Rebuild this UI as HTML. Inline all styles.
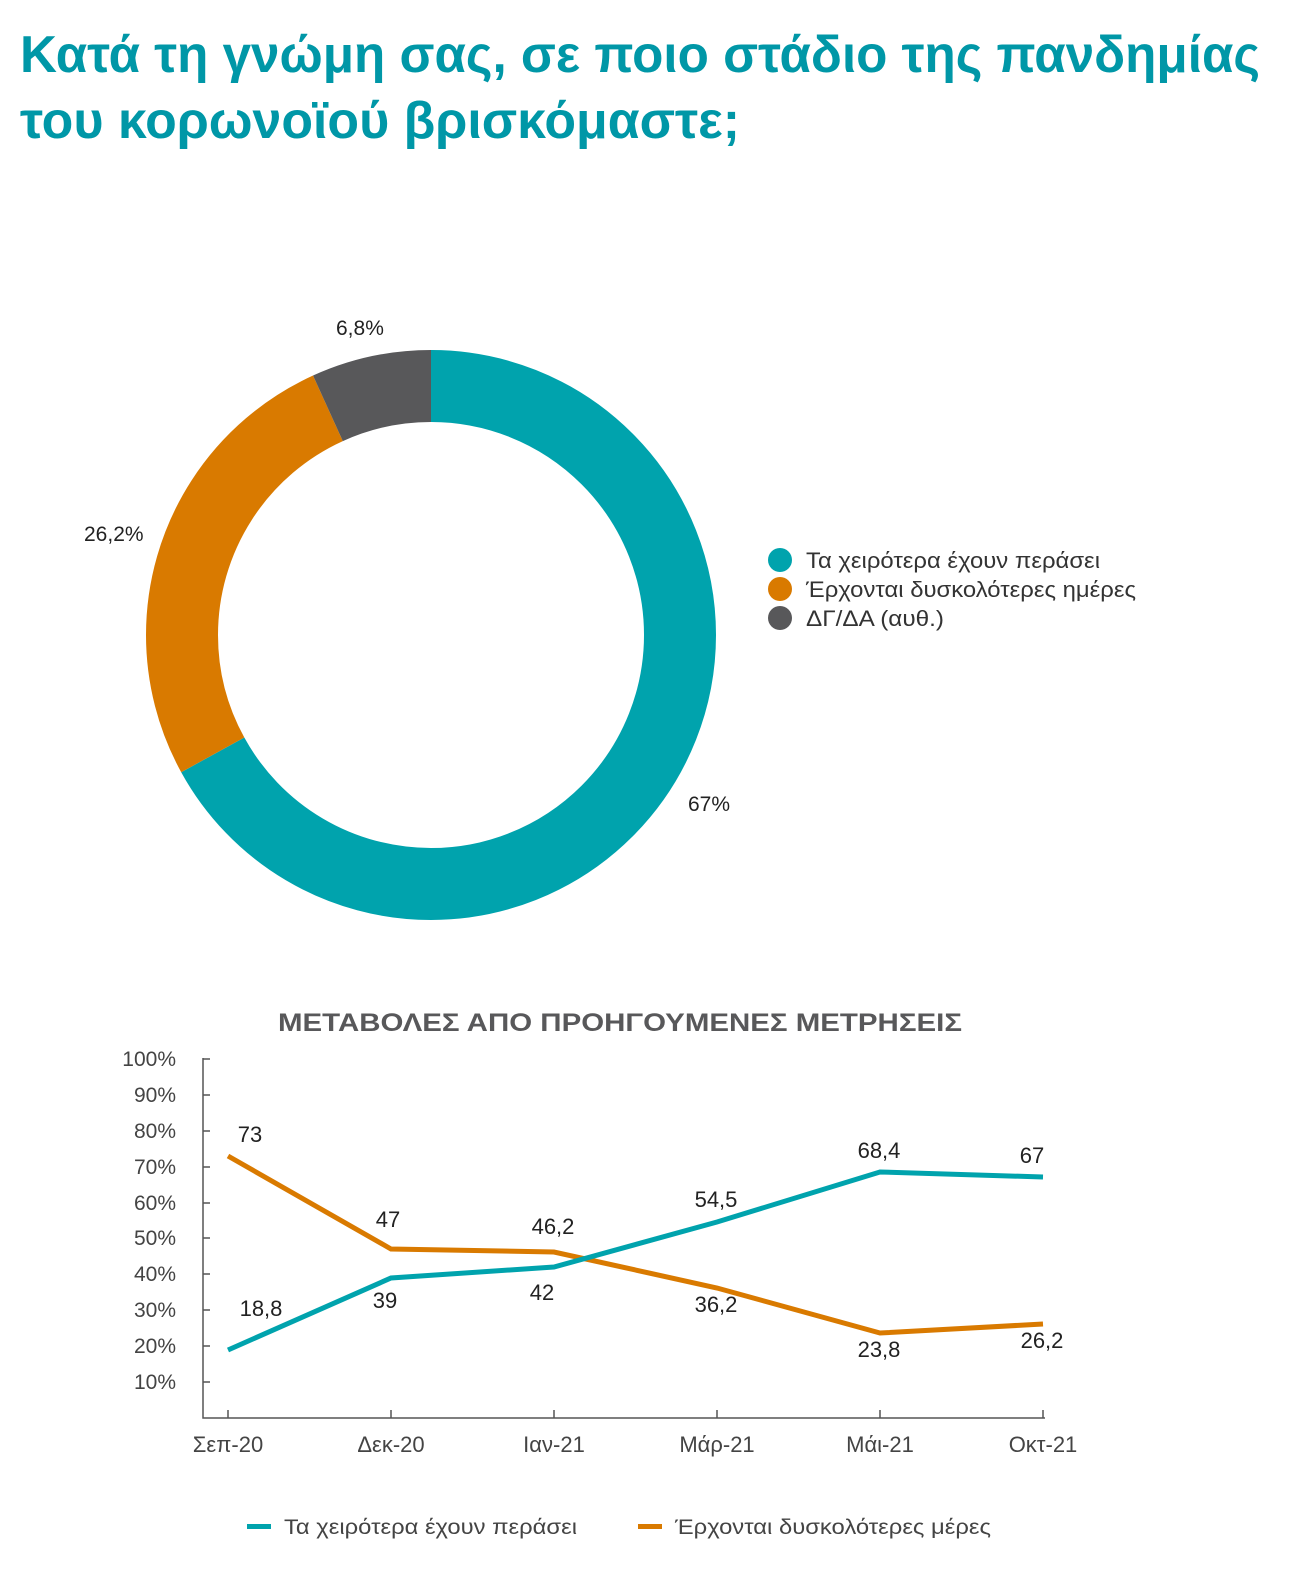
<!DOCTYPE html>
<html><head><meta charset="utf-8"><style>
body{margin:0;background:#fff;width:1290px;height:1573px;overflow:hidden;font-family:"Liberation Sans","DejaVu Sans",sans-serif}
</style></head><body>
<svg width="1290" height="1573" xmlns="http://www.w3.org/2000/svg" font-family="Liberation Sans, DejaVu Sans, sans-serif">
<text x="20" y="72" font-size="52" font-weight="bold" fill="#0097A7" textLength="1240" lengthAdjust="spacingAndGlyphs">Κατά τη γνώμη σας, σε ποιο στάδιο της πανδημίας</text>
<text x="20" y="138" font-size="52" font-weight="bold" fill="#0097A7" textLength="720" lengthAdjust="spacingAndGlyphs">του κορωνοϊού βρισκόμαστε;</text>
<g transform="rotate(-90 431 635)">
<circle cx="431" cy="635" r="249" fill="none" stroke="#00A3AD" stroke-width="72" stroke-dasharray="1048.2 1564.5"/>
<circle cx="431" cy="635" r="249" fill="none" stroke="#D97A00" stroke-width="72" stroke-dasharray="0 1048.2 409.9 1564.5"/>
<circle cx="431" cy="635" r="249" fill="none" stroke="#58585A" stroke-width="72" stroke-dasharray="0 1458.1 106.4 1564.5"/>
</g>
<g font-size="21" fill="#222">
<text x="336" y="335">6,8%</text>
<text x="84" y="541">26,2%</text>
<text x="688" y="811">67%</text>
</g>
<g font-size="22" fill="#333">
<circle cx="780" cy="560" r="12" fill="#00A3AD"/><text x="806" y="568" textLength="294" lengthAdjust="spacingAndGlyphs">Τα χειρότερα έχουν περάσει</text>
<circle cx="780" cy="589" r="12" fill="#D97A00"/><text x="806" y="597" textLength="330" lengthAdjust="spacingAndGlyphs">Έρχονται δυσκολότερες ημέρες</text>
<circle cx="780" cy="618" r="12" fill="#58585A"/><text x="806" y="626" textLength="138" lengthAdjust="spacingAndGlyphs">ΔΓ/ΔΑ (αυθ.)</text>
</g>
<text x="278" y="1031" font-size="25" font-weight="bold" fill="#58585A" textLength="684" lengthAdjust="spacingAndGlyphs">ΜΕΤΑΒΟΛΕΣ ΑΠΟ ΠΡΟΗΓΟΥΜΕΝΕΣ ΜΕΤΡΗΣΕΙΣ</text>
<g stroke="#555" stroke-width="1.5" fill="none">
<path d="M203 1058V1418H1045"/>
<path d="M203 1059h7M203 1095h7M203 1131h7M203 1167h7M203 1203h7M203 1238h7M203 1274h7M203 1310h7M203 1346h7M203 1382h7"/>
<path d="M228 1418v-8M391 1418v-8M554 1418v-8M717 1418v-8M880 1418v-8M1043 1418v-8"/>
</g>
<g font-size="21" fill="#444" text-anchor="end">
<text x="176" y="1066">100%</text><text x="176" y="1102">90%</text><text x="176" y="1138">80%</text><text x="176" y="1174">70%</text><text x="176" y="1210">60%</text><text x="176" y="1245">50%</text><text x="176" y="1281">40%</text><text x="176" y="1317">30%</text><text x="176" y="1353">20%</text><text x="176" y="1389">10%</text>
</g>
<g font-size="22" fill="#444" text-anchor="middle">
<text x="228" y="1452">Σεπ-20</text><text x="391" y="1452">Δεκ-20</text><text x="554" y="1452">Ιαν-21</text><text x="717" y="1452">Μάρ-21</text><text x="880" y="1452">Μάι-21</text><text x="1043" y="1452">Οκτ-21</text>
</g>
<polyline points="228,1156 391,1249 554,1252 717,1288 880,1333 1043,1324" fill="none" stroke="#D97A00" stroke-width="5"/>
<polyline points="228,1350 391,1278 554,1267 717,1222 880,1172 1043,1177" fill="none" stroke="#00A3AD" stroke-width="5"/>
<g font-size="22" fill="#222" text-anchor="middle">
<text x="250" y="1142">73</text><text x="388" y="1227">47</text><text x="553" y="1234">46,2</text><text x="716" y="1312">36,2</text><text x="879" y="1357">23,8</text><text x="1042" y="1348">26,2</text>
<text x="261" y="1316">18,8</text><text x="385" y="1308">39</text><text x="542" y="1300">42</text><text x="716" y="1207">54,5</text><text x="879" y="1158">68,4</text><text x="1032" y="1163">67</text>
</g>
<g font-size="21" fill="#444">
<rect x="247" y="1524" width="24" height="5" fill="#00A3AD"/><text x="284" y="1534" textLength="293" lengthAdjust="spacingAndGlyphs">Τα χειρότερα έχουν περάσει</text>
<rect x="638" y="1524" width="24" height="5" fill="#D97A00"/><text x="675" y="1534" textLength="316" lengthAdjust="spacingAndGlyphs">Έρχονται δυσκολότερες μέρες</text>
</g>
</svg>
</body></html>
